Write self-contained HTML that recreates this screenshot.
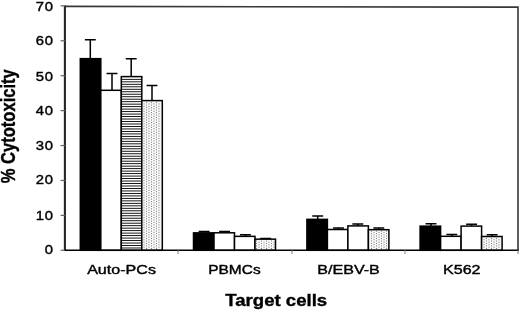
<!DOCTYPE html>
<html><head><meta charset="utf-8"><style>
html,body{margin:0;padding:0;background:#fff;}
svg{display:block;will-change:transform;}
.t{font-family:"Liberation Sans",sans-serif;font-size:13.6px;fill:#000;stroke:#000;stroke-width:0.4px;letter-spacing:0.75px;}
.c{letter-spacing:0;font-size:13.3px;}
.b{font-family:"Liberation Sans",sans-serif;font-size:16.2px;font-weight:bold;fill:#000;stroke:#000;stroke-width:0.35px;}
</style></head><body>
<svg width="520" height="311" viewBox="0 0 520 311">
<rect width="520" height="311" fill="#fff"/>
<path d="M90.30 39.85V58.65M84.85 39.85H95.75" stroke="#000" stroke-width="1.5" fill="none"/>
<rect x="80.30" y="58.65" width="20.50" height="191.65" fill="#000" stroke="#000" stroke-width="1.5"/>
<path d="M112.00 73.60V90.30M106.55 73.60H117.45" stroke="#000" stroke-width="1.5" fill="none"/>
<rect x="100.80" y="90.30" width="20.50" height="160.00" fill="#fff"/>
<rect x="100.80" y="90.30" width="20.50" height="160.00" fill="none" stroke="#000" stroke-width="1.5"/>
<path d="M131.20 58.80V76.60M125.75 58.80H136.65" stroke="#000" stroke-width="1.5" fill="none"/>
<rect x="121.30" y="76.60" width="20.50" height="173.70" fill="#fff"/>
<g fill="#000"><rect x="121.30" y="78.90" width="20.50" height="0.9"/><rect x="121.30" y="81.38" width="20.50" height="0.9"/><rect x="121.30" y="83.86" width="20.50" height="0.9"/><rect x="121.30" y="86.34" width="20.50" height="0.9"/><rect x="121.30" y="88.82" width="20.50" height="0.9"/><rect x="121.30" y="91.30" width="20.50" height="0.9"/><rect x="121.30" y="93.78" width="20.50" height="0.9"/><rect x="121.30" y="96.26" width="20.50" height="0.9"/><rect x="121.30" y="98.74" width="20.50" height="0.9"/><rect x="121.30" y="101.22" width="20.50" height="0.9"/><rect x="121.30" y="103.70" width="20.50" height="0.9"/><rect x="121.30" y="106.18" width="20.50" height="0.9"/><rect x="121.30" y="108.66" width="20.50" height="0.9"/><rect x="121.30" y="111.14" width="20.50" height="0.9"/><rect x="121.30" y="113.62" width="20.50" height="0.9"/><rect x="121.30" y="116.10" width="20.50" height="0.9"/><rect x="121.30" y="118.58" width="20.50" height="0.9"/><rect x="121.30" y="121.06" width="20.50" height="0.9"/><rect x="121.30" y="123.54" width="20.50" height="0.9"/><rect x="121.30" y="126.02" width="20.50" height="0.9"/><rect x="121.30" y="128.50" width="20.50" height="0.9"/><rect x="121.30" y="130.98" width="20.50" height="0.9"/><rect x="121.30" y="133.46" width="20.50" height="0.9"/><rect x="121.30" y="135.94" width="20.50" height="0.9"/><rect x="121.30" y="138.42" width="20.50" height="0.9"/><rect x="121.30" y="140.90" width="20.50" height="0.9"/><rect x="121.30" y="143.38" width="20.50" height="0.9"/><rect x="121.30" y="145.86" width="20.50" height="0.9"/><rect x="121.30" y="148.34" width="20.50" height="0.9"/><rect x="121.30" y="150.82" width="20.50" height="0.9"/><rect x="121.30" y="153.30" width="20.50" height="0.9"/><rect x="121.30" y="155.78" width="20.50" height="0.9"/><rect x="121.30" y="158.26" width="20.50" height="0.9"/><rect x="121.30" y="160.74" width="20.50" height="0.9"/><rect x="121.30" y="163.22" width="20.50" height="0.9"/><rect x="121.30" y="165.70" width="20.50" height="0.9"/><rect x="121.30" y="168.18" width="20.50" height="0.9"/><rect x="121.30" y="170.66" width="20.50" height="0.9"/><rect x="121.30" y="173.14" width="20.50" height="0.9"/><rect x="121.30" y="175.62" width="20.50" height="0.9"/><rect x="121.30" y="178.10" width="20.50" height="0.9"/><rect x="121.30" y="180.58" width="20.50" height="0.9"/><rect x="121.30" y="183.06" width="20.50" height="0.9"/><rect x="121.30" y="185.54" width="20.50" height="0.9"/><rect x="121.30" y="188.02" width="20.50" height="0.9"/><rect x="121.30" y="190.50" width="20.50" height="0.9"/><rect x="121.30" y="192.98" width="20.50" height="0.9"/><rect x="121.30" y="195.46" width="20.50" height="0.9"/><rect x="121.30" y="197.94" width="20.50" height="0.9"/><rect x="121.30" y="200.42" width="20.50" height="0.9"/><rect x="121.30" y="202.90" width="20.50" height="0.9"/><rect x="121.30" y="205.38" width="20.50" height="0.9"/><rect x="121.30" y="207.86" width="20.50" height="0.9"/><rect x="121.30" y="210.34" width="20.50" height="0.9"/><rect x="121.30" y="212.82" width="20.50" height="0.9"/><rect x="121.30" y="215.30" width="20.50" height="0.9"/><rect x="121.30" y="217.78" width="20.50" height="0.9"/><rect x="121.30" y="220.26" width="20.50" height="0.9"/><rect x="121.30" y="222.74" width="20.50" height="0.9"/><rect x="121.30" y="225.22" width="20.50" height="0.9"/><rect x="121.30" y="227.70" width="20.50" height="0.9"/><rect x="121.30" y="230.18" width="20.50" height="0.9"/><rect x="121.30" y="232.66" width="20.50" height="0.9"/><rect x="121.30" y="235.14" width="20.50" height="0.9"/><rect x="121.30" y="237.62" width="20.50" height="0.9"/><rect x="121.30" y="240.10" width="20.50" height="0.9"/><rect x="121.30" y="242.58" width="20.50" height="0.9"/><rect x="121.30" y="245.06" width="20.50" height="0.9"/><rect x="121.30" y="247.54" width="20.50" height="0.9"/></g>
<rect x="121.30" y="76.60" width="20.50" height="173.70" fill="none" stroke="#000" stroke-width="1.5"/>
<path d="M152.00 85.40V100.60M146.55 85.40H157.45" stroke="#000" stroke-width="1.5" fill="none"/>
<rect x="141.80" y="100.60" width="20.50" height="149.70" fill="#fff"/>
<rect x="141.80" y="100.60" width="20.50" height="149.70" fill="#f8f8f8"/><g fill="#7a7a7a"><rect x="143.50" y="103.43" width="1" height="1"/><rect x="143.50" y="105.90" width="1" height="1"/><rect x="143.50" y="108.37" width="1" height="1"/><rect x="143.50" y="110.84" width="1" height="1"/><rect x="143.50" y="113.31" width="1" height="1"/><rect x="143.50" y="115.78" width="1" height="1"/><rect x="143.50" y="118.25" width="1" height="1"/><rect x="143.50" y="120.72" width="1" height="1"/><rect x="143.50" y="123.19" width="1" height="1"/><rect x="143.50" y="125.66" width="1" height="1"/><rect x="143.50" y="128.13" width="1" height="1"/><rect x="143.50" y="130.61" width="1" height="1"/><rect x="143.50" y="133.07" width="1" height="1"/><rect x="143.50" y="135.55" width="1" height="1"/><rect x="143.50" y="138.02" width="1" height="1"/><rect x="143.50" y="140.49" width="1" height="1"/><rect x="143.50" y="142.96" width="1" height="1"/><rect x="143.50" y="145.43" width="1" height="1"/><rect x="143.50" y="147.90" width="1" height="1"/><rect x="143.50" y="150.37" width="1" height="1"/><rect x="143.50" y="152.84" width="1" height="1"/><rect x="143.50" y="155.31" width="1" height="1"/><rect x="143.50" y="157.78" width="1" height="1"/><rect x="143.50" y="160.25" width="1" height="1"/><rect x="143.50" y="162.72" width="1" height="1"/><rect x="143.50" y="165.19" width="1" height="1"/><rect x="143.50" y="167.66" width="1" height="1"/><rect x="143.50" y="170.12" width="1" height="1"/><rect x="143.50" y="172.60" width="1" height="1"/><rect x="143.50" y="175.06" width="1" height="1"/><rect x="143.50" y="177.54" width="1" height="1"/><rect x="143.50" y="180.01" width="1" height="1"/><rect x="143.50" y="182.48" width="1" height="1"/><rect x="143.50" y="184.95" width="1" height="1"/><rect x="143.50" y="187.42" width="1" height="1"/><rect x="143.50" y="189.89" width="1" height="1"/><rect x="143.50" y="192.36" width="1" height="1"/><rect x="143.50" y="194.83" width="1" height="1"/><rect x="143.50" y="197.30" width="1" height="1"/><rect x="143.50" y="199.77" width="1" height="1"/><rect x="143.50" y="202.24" width="1" height="1"/><rect x="143.50" y="204.71" width="1" height="1"/><rect x="143.50" y="207.18" width="1" height="1"/><rect x="143.50" y="209.65" width="1" height="1"/><rect x="143.50" y="212.12" width="1" height="1"/><rect x="143.50" y="214.59" width="1" height="1"/><rect x="143.50" y="217.06" width="1" height="1"/><rect x="143.50" y="219.53" width="1" height="1"/><rect x="143.50" y="222.00" width="1" height="1"/><rect x="143.50" y="224.47" width="1" height="1"/><rect x="143.50" y="226.94" width="1" height="1"/><rect x="143.50" y="229.41" width="1" height="1"/><rect x="143.50" y="231.88" width="1" height="1"/><rect x="143.50" y="234.35" width="1" height="1"/><rect x="143.50" y="236.82" width="1" height="1"/><rect x="143.50" y="239.29" width="1" height="1"/><rect x="143.50" y="241.76" width="1" height="1"/><rect x="143.50" y="244.23" width="1" height="1"/><rect x="143.50" y="246.70" width="1" height="1"/><rect x="146.00" y="102.20" width="1" height="1"/><rect x="146.00" y="104.67" width="1" height="1"/><rect x="146.00" y="107.14" width="1" height="1"/><rect x="146.00" y="109.61" width="1" height="1"/><rect x="146.00" y="112.08" width="1" height="1"/><rect x="146.00" y="114.55" width="1" height="1"/><rect x="146.00" y="117.02" width="1" height="1"/><rect x="146.00" y="119.49" width="1" height="1"/><rect x="146.00" y="121.96" width="1" height="1"/><rect x="146.00" y="124.43" width="1" height="1"/><rect x="146.00" y="126.90" width="1" height="1"/><rect x="146.00" y="129.37" width="1" height="1"/><rect x="146.00" y="131.84" width="1" height="1"/><rect x="146.00" y="134.31" width="1" height="1"/><rect x="146.00" y="136.78" width="1" height="1"/><rect x="146.00" y="139.25" width="1" height="1"/><rect x="146.00" y="141.72" width="1" height="1"/><rect x="146.00" y="144.19" width="1" height="1"/><rect x="146.00" y="146.66" width="1" height="1"/><rect x="146.00" y="149.13" width="1" height="1"/><rect x="146.00" y="151.60" width="1" height="1"/><rect x="146.00" y="154.07" width="1" height="1"/><rect x="146.00" y="156.54" width="1" height="1"/><rect x="146.00" y="159.01" width="1" height="1"/><rect x="146.00" y="161.48" width="1" height="1"/><rect x="146.00" y="163.95" width="1" height="1"/><rect x="146.00" y="166.42" width="1" height="1"/><rect x="146.00" y="168.89" width="1" height="1"/><rect x="146.00" y="171.36" width="1" height="1"/><rect x="146.00" y="173.83" width="1" height="1"/><rect x="146.00" y="176.30" width="1" height="1"/><rect x="146.00" y="178.77" width="1" height="1"/><rect x="146.00" y="181.24" width="1" height="1"/><rect x="146.00" y="183.71" width="1" height="1"/><rect x="146.00" y="186.18" width="1" height="1"/><rect x="146.00" y="188.65" width="1" height="1"/><rect x="146.00" y="191.12" width="1" height="1"/><rect x="146.00" y="193.59" width="1" height="1"/><rect x="146.00" y="196.06" width="1" height="1"/><rect x="146.00" y="198.53" width="1" height="1"/><rect x="146.00" y="201.00" width="1" height="1"/><rect x="146.00" y="203.47" width="1" height="1"/><rect x="146.00" y="205.94" width="1" height="1"/><rect x="146.00" y="208.41" width="1" height="1"/><rect x="146.00" y="210.88" width="1" height="1"/><rect x="146.00" y="213.35" width="1" height="1"/><rect x="146.00" y="215.82" width="1" height="1"/><rect x="146.00" y="218.29" width="1" height="1"/><rect x="146.00" y="220.76" width="1" height="1"/><rect x="146.00" y="223.23" width="1" height="1"/><rect x="146.00" y="225.70" width="1" height="1"/><rect x="146.00" y="228.17" width="1" height="1"/><rect x="146.00" y="230.64" width="1" height="1"/><rect x="146.00" y="233.11" width="1" height="1"/><rect x="146.00" y="235.58" width="1" height="1"/><rect x="146.00" y="238.05" width="1" height="1"/><rect x="146.00" y="240.52" width="1" height="1"/><rect x="146.00" y="242.99" width="1" height="1"/><rect x="146.00" y="245.46" width="1" height="1"/><rect x="146.00" y="247.93" width="1" height="1"/><rect x="148.50" y="103.43" width="1" height="1"/><rect x="148.50" y="105.90" width="1" height="1"/><rect x="148.50" y="108.37" width="1" height="1"/><rect x="148.50" y="110.84" width="1" height="1"/><rect x="148.50" y="113.31" width="1" height="1"/><rect x="148.50" y="115.78" width="1" height="1"/><rect x="148.50" y="118.25" width="1" height="1"/><rect x="148.50" y="120.72" width="1" height="1"/><rect x="148.50" y="123.19" width="1" height="1"/><rect x="148.50" y="125.66" width="1" height="1"/><rect x="148.50" y="128.13" width="1" height="1"/><rect x="148.50" y="130.61" width="1" height="1"/><rect x="148.50" y="133.07" width="1" height="1"/><rect x="148.50" y="135.55" width="1" height="1"/><rect x="148.50" y="138.02" width="1" height="1"/><rect x="148.50" y="140.49" width="1" height="1"/><rect x="148.50" y="142.96" width="1" height="1"/><rect x="148.50" y="145.43" width="1" height="1"/><rect x="148.50" y="147.90" width="1" height="1"/><rect x="148.50" y="150.37" width="1" height="1"/><rect x="148.50" y="152.84" width="1" height="1"/><rect x="148.50" y="155.31" width="1" height="1"/><rect x="148.50" y="157.78" width="1" height="1"/><rect x="148.50" y="160.25" width="1" height="1"/><rect x="148.50" y="162.72" width="1" height="1"/><rect x="148.50" y="165.19" width="1" height="1"/><rect x="148.50" y="167.66" width="1" height="1"/><rect x="148.50" y="170.12" width="1" height="1"/><rect x="148.50" y="172.60" width="1" height="1"/><rect x="148.50" y="175.06" width="1" height="1"/><rect x="148.50" y="177.54" width="1" height="1"/><rect x="148.50" y="180.01" width="1" height="1"/><rect x="148.50" y="182.48" width="1" height="1"/><rect x="148.50" y="184.95" width="1" height="1"/><rect x="148.50" y="187.42" width="1" height="1"/><rect x="148.50" y="189.89" width="1" height="1"/><rect x="148.50" y="192.36" width="1" height="1"/><rect x="148.50" y="194.83" width="1" height="1"/><rect x="148.50" y="197.30" width="1" height="1"/><rect x="148.50" y="199.77" width="1" height="1"/><rect x="148.50" y="202.24" width="1" height="1"/><rect x="148.50" y="204.71" width="1" height="1"/><rect x="148.50" y="207.18" width="1" height="1"/><rect x="148.50" y="209.65" width="1" height="1"/><rect x="148.50" y="212.12" width="1" height="1"/><rect x="148.50" y="214.59" width="1" height="1"/><rect x="148.50" y="217.06" width="1" height="1"/><rect x="148.50" y="219.53" width="1" height="1"/><rect x="148.50" y="222.00" width="1" height="1"/><rect x="148.50" y="224.47" width="1" height="1"/><rect x="148.50" y="226.94" width="1" height="1"/><rect x="148.50" y="229.41" width="1" height="1"/><rect x="148.50" y="231.88" width="1" height="1"/><rect x="148.50" y="234.35" width="1" height="1"/><rect x="148.50" y="236.82" width="1" height="1"/><rect x="148.50" y="239.29" width="1" height="1"/><rect x="148.50" y="241.76" width="1" height="1"/><rect x="148.50" y="244.23" width="1" height="1"/><rect x="148.50" y="246.70" width="1" height="1"/><rect x="151.00" y="102.20" width="1" height="1"/><rect x="151.00" y="104.67" width="1" height="1"/><rect x="151.00" y="107.14" width="1" height="1"/><rect x="151.00" y="109.61" width="1" height="1"/><rect x="151.00" y="112.08" width="1" height="1"/><rect x="151.00" y="114.55" width="1" height="1"/><rect x="151.00" y="117.02" width="1" height="1"/><rect x="151.00" y="119.49" width="1" height="1"/><rect x="151.00" y="121.96" width="1" height="1"/><rect x="151.00" y="124.43" width="1" height="1"/><rect x="151.00" y="126.90" width="1" height="1"/><rect x="151.00" y="129.37" width="1" height="1"/><rect x="151.00" y="131.84" width="1" height="1"/><rect x="151.00" y="134.31" width="1" height="1"/><rect x="151.00" y="136.78" width="1" height="1"/><rect x="151.00" y="139.25" width="1" height="1"/><rect x="151.00" y="141.72" width="1" height="1"/><rect x="151.00" y="144.19" width="1" height="1"/><rect x="151.00" y="146.66" width="1" height="1"/><rect x="151.00" y="149.13" width="1" height="1"/><rect x="151.00" y="151.60" width="1" height="1"/><rect x="151.00" y="154.07" width="1" height="1"/><rect x="151.00" y="156.54" width="1" height="1"/><rect x="151.00" y="159.01" width="1" height="1"/><rect x="151.00" y="161.48" width="1" height="1"/><rect x="151.00" y="163.95" width="1" height="1"/><rect x="151.00" y="166.42" width="1" height="1"/><rect x="151.00" y="168.89" width="1" height="1"/><rect x="151.00" y="171.36" width="1" height="1"/><rect x="151.00" y="173.83" width="1" height="1"/><rect x="151.00" y="176.30" width="1" height="1"/><rect x="151.00" y="178.77" width="1" height="1"/><rect x="151.00" y="181.24" width="1" height="1"/><rect x="151.00" y="183.71" width="1" height="1"/><rect x="151.00" y="186.18" width="1" height="1"/><rect x="151.00" y="188.65" width="1" height="1"/><rect x="151.00" y="191.12" width="1" height="1"/><rect x="151.00" y="193.59" width="1" height="1"/><rect x="151.00" y="196.06" width="1" height="1"/><rect x="151.00" y="198.53" width="1" height="1"/><rect x="151.00" y="201.00" width="1" height="1"/><rect x="151.00" y="203.47" width="1" height="1"/><rect x="151.00" y="205.94" width="1" height="1"/><rect x="151.00" y="208.41" width="1" height="1"/><rect x="151.00" y="210.88" width="1" height="1"/><rect x="151.00" y="213.35" width="1" height="1"/><rect x="151.00" y="215.82" width="1" height="1"/><rect x="151.00" y="218.29" width="1" height="1"/><rect x="151.00" y="220.76" width="1" height="1"/><rect x="151.00" y="223.23" width="1" height="1"/><rect x="151.00" y="225.70" width="1" height="1"/><rect x="151.00" y="228.17" width="1" height="1"/><rect x="151.00" y="230.64" width="1" height="1"/><rect x="151.00" y="233.11" width="1" height="1"/><rect x="151.00" y="235.58" width="1" height="1"/><rect x="151.00" y="238.05" width="1" height="1"/><rect x="151.00" y="240.52" width="1" height="1"/><rect x="151.00" y="242.99" width="1" height="1"/><rect x="151.00" y="245.46" width="1" height="1"/><rect x="151.00" y="247.93" width="1" height="1"/><rect x="153.50" y="103.43" width="1" height="1"/><rect x="153.50" y="105.90" width="1" height="1"/><rect x="153.50" y="108.37" width="1" height="1"/><rect x="153.50" y="110.84" width="1" height="1"/><rect x="153.50" y="113.31" width="1" height="1"/><rect x="153.50" y="115.78" width="1" height="1"/><rect x="153.50" y="118.25" width="1" height="1"/><rect x="153.50" y="120.72" width="1" height="1"/><rect x="153.50" y="123.19" width="1" height="1"/><rect x="153.50" y="125.66" width="1" height="1"/><rect x="153.50" y="128.13" width="1" height="1"/><rect x="153.50" y="130.61" width="1" height="1"/><rect x="153.50" y="133.07" width="1" height="1"/><rect x="153.50" y="135.55" width="1" height="1"/><rect x="153.50" y="138.02" width="1" height="1"/><rect x="153.50" y="140.49" width="1" height="1"/><rect x="153.50" y="142.96" width="1" height="1"/><rect x="153.50" y="145.43" width="1" height="1"/><rect x="153.50" y="147.90" width="1" height="1"/><rect x="153.50" y="150.37" width="1" height="1"/><rect x="153.50" y="152.84" width="1" height="1"/><rect x="153.50" y="155.31" width="1" height="1"/><rect x="153.50" y="157.78" width="1" height="1"/><rect x="153.50" y="160.25" width="1" height="1"/><rect x="153.50" y="162.72" width="1" height="1"/><rect x="153.50" y="165.19" width="1" height="1"/><rect x="153.50" y="167.66" width="1" height="1"/><rect x="153.50" y="170.12" width="1" height="1"/><rect x="153.50" y="172.60" width="1" height="1"/><rect x="153.50" y="175.06" width="1" height="1"/><rect x="153.50" y="177.54" width="1" height="1"/><rect x="153.50" y="180.01" width="1" height="1"/><rect x="153.50" y="182.48" width="1" height="1"/><rect x="153.50" y="184.95" width="1" height="1"/><rect x="153.50" y="187.42" width="1" height="1"/><rect x="153.50" y="189.89" width="1" height="1"/><rect x="153.50" y="192.36" width="1" height="1"/><rect x="153.50" y="194.83" width="1" height="1"/><rect x="153.50" y="197.30" width="1" height="1"/><rect x="153.50" y="199.77" width="1" height="1"/><rect x="153.50" y="202.24" width="1" height="1"/><rect x="153.50" y="204.71" width="1" height="1"/><rect x="153.50" y="207.18" width="1" height="1"/><rect x="153.50" y="209.65" width="1" height="1"/><rect x="153.50" y="212.12" width="1" height="1"/><rect x="153.50" y="214.59" width="1" height="1"/><rect x="153.50" y="217.06" width="1" height="1"/><rect x="153.50" y="219.53" width="1" height="1"/><rect x="153.50" y="222.00" width="1" height="1"/><rect x="153.50" y="224.47" width="1" height="1"/><rect x="153.50" y="226.94" width="1" height="1"/><rect x="153.50" y="229.41" width="1" height="1"/><rect x="153.50" y="231.88" width="1" height="1"/><rect x="153.50" y="234.35" width="1" height="1"/><rect x="153.50" y="236.82" width="1" height="1"/><rect x="153.50" y="239.29" width="1" height="1"/><rect x="153.50" y="241.76" width="1" height="1"/><rect x="153.50" y="244.23" width="1" height="1"/><rect x="153.50" y="246.70" width="1" height="1"/><rect x="156.00" y="102.20" width="1" height="1"/><rect x="156.00" y="104.67" width="1" height="1"/><rect x="156.00" y="107.14" width="1" height="1"/><rect x="156.00" y="109.61" width="1" height="1"/><rect x="156.00" y="112.08" width="1" height="1"/><rect x="156.00" y="114.55" width="1" height="1"/><rect x="156.00" y="117.02" width="1" height="1"/><rect x="156.00" y="119.49" width="1" height="1"/><rect x="156.00" y="121.96" width="1" height="1"/><rect x="156.00" y="124.43" width="1" height="1"/><rect x="156.00" y="126.90" width="1" height="1"/><rect x="156.00" y="129.37" width="1" height="1"/><rect x="156.00" y="131.84" width="1" height="1"/><rect x="156.00" y="134.31" width="1" height="1"/><rect x="156.00" y="136.78" width="1" height="1"/><rect x="156.00" y="139.25" width="1" height="1"/><rect x="156.00" y="141.72" width="1" height="1"/><rect x="156.00" y="144.19" width="1" height="1"/><rect x="156.00" y="146.66" width="1" height="1"/><rect x="156.00" y="149.13" width="1" height="1"/><rect x="156.00" y="151.60" width="1" height="1"/><rect x="156.00" y="154.07" width="1" height="1"/><rect x="156.00" y="156.54" width="1" height="1"/><rect x="156.00" y="159.01" width="1" height="1"/><rect x="156.00" y="161.48" width="1" height="1"/><rect x="156.00" y="163.95" width="1" height="1"/><rect x="156.00" y="166.42" width="1" height="1"/><rect x="156.00" y="168.89" width="1" height="1"/><rect x="156.00" y="171.36" width="1" height="1"/><rect x="156.00" y="173.83" width="1" height="1"/><rect x="156.00" y="176.30" width="1" height="1"/><rect x="156.00" y="178.77" width="1" height="1"/><rect x="156.00" y="181.24" width="1" height="1"/><rect x="156.00" y="183.71" width="1" height="1"/><rect x="156.00" y="186.18" width="1" height="1"/><rect x="156.00" y="188.65" width="1" height="1"/><rect x="156.00" y="191.12" width="1" height="1"/><rect x="156.00" y="193.59" width="1" height="1"/><rect x="156.00" y="196.06" width="1" height="1"/><rect x="156.00" y="198.53" width="1" height="1"/><rect x="156.00" y="201.00" width="1" height="1"/><rect x="156.00" y="203.47" width="1" height="1"/><rect x="156.00" y="205.94" width="1" height="1"/><rect x="156.00" y="208.41" width="1" height="1"/><rect x="156.00" y="210.88" width="1" height="1"/><rect x="156.00" y="213.35" width="1" height="1"/><rect x="156.00" y="215.82" width="1" height="1"/><rect x="156.00" y="218.29" width="1" height="1"/><rect x="156.00" y="220.76" width="1" height="1"/><rect x="156.00" y="223.23" width="1" height="1"/><rect x="156.00" y="225.70" width="1" height="1"/><rect x="156.00" y="228.17" width="1" height="1"/><rect x="156.00" y="230.64" width="1" height="1"/><rect x="156.00" y="233.11" width="1" height="1"/><rect x="156.00" y="235.58" width="1" height="1"/><rect x="156.00" y="238.05" width="1" height="1"/><rect x="156.00" y="240.52" width="1" height="1"/><rect x="156.00" y="242.99" width="1" height="1"/><rect x="156.00" y="245.46" width="1" height="1"/><rect x="156.00" y="247.93" width="1" height="1"/><rect x="158.50" y="103.43" width="1" height="1"/><rect x="158.50" y="105.90" width="1" height="1"/><rect x="158.50" y="108.37" width="1" height="1"/><rect x="158.50" y="110.84" width="1" height="1"/><rect x="158.50" y="113.31" width="1" height="1"/><rect x="158.50" y="115.78" width="1" height="1"/><rect x="158.50" y="118.25" width="1" height="1"/><rect x="158.50" y="120.72" width="1" height="1"/><rect x="158.50" y="123.19" width="1" height="1"/><rect x="158.50" y="125.66" width="1" height="1"/><rect x="158.50" y="128.13" width="1" height="1"/><rect x="158.50" y="130.61" width="1" height="1"/><rect x="158.50" y="133.07" width="1" height="1"/><rect x="158.50" y="135.55" width="1" height="1"/><rect x="158.50" y="138.02" width="1" height="1"/><rect x="158.50" y="140.49" width="1" height="1"/><rect x="158.50" y="142.96" width="1" height="1"/><rect x="158.50" y="145.43" width="1" height="1"/><rect x="158.50" y="147.90" width="1" height="1"/><rect x="158.50" y="150.37" width="1" height="1"/><rect x="158.50" y="152.84" width="1" height="1"/><rect x="158.50" y="155.31" width="1" height="1"/><rect x="158.50" y="157.78" width="1" height="1"/><rect x="158.50" y="160.25" width="1" height="1"/><rect x="158.50" y="162.72" width="1" height="1"/><rect x="158.50" y="165.19" width="1" height="1"/><rect x="158.50" y="167.66" width="1" height="1"/><rect x="158.50" y="170.12" width="1" height="1"/><rect x="158.50" y="172.60" width="1" height="1"/><rect x="158.50" y="175.06" width="1" height="1"/><rect x="158.50" y="177.54" width="1" height="1"/><rect x="158.50" y="180.01" width="1" height="1"/><rect x="158.50" y="182.48" width="1" height="1"/><rect x="158.50" y="184.95" width="1" height="1"/><rect x="158.50" y="187.42" width="1" height="1"/><rect x="158.50" y="189.89" width="1" height="1"/><rect x="158.50" y="192.36" width="1" height="1"/><rect x="158.50" y="194.83" width="1" height="1"/><rect x="158.50" y="197.30" width="1" height="1"/><rect x="158.50" y="199.77" width="1" height="1"/><rect x="158.50" y="202.24" width="1" height="1"/><rect x="158.50" y="204.71" width="1" height="1"/><rect x="158.50" y="207.18" width="1" height="1"/><rect x="158.50" y="209.65" width="1" height="1"/><rect x="158.50" y="212.12" width="1" height="1"/><rect x="158.50" y="214.59" width="1" height="1"/><rect x="158.50" y="217.06" width="1" height="1"/><rect x="158.50" y="219.53" width="1" height="1"/><rect x="158.50" y="222.00" width="1" height="1"/><rect x="158.50" y="224.47" width="1" height="1"/><rect x="158.50" y="226.94" width="1" height="1"/><rect x="158.50" y="229.41" width="1" height="1"/><rect x="158.50" y="231.88" width="1" height="1"/><rect x="158.50" y="234.35" width="1" height="1"/><rect x="158.50" y="236.82" width="1" height="1"/><rect x="158.50" y="239.29" width="1" height="1"/><rect x="158.50" y="241.76" width="1" height="1"/><rect x="158.50" y="244.23" width="1" height="1"/><rect x="158.50" y="246.70" width="1" height="1"/></g>
<rect x="141.80" y="100.60" width="20.50" height="149.70" fill="none" stroke="#000" stroke-width="1.5"/>
<path d="M204.10 231.50V232.85M198.65 231.50H209.55" stroke="#000" stroke-width="1.5" fill="none"/>
<rect x="193.50" y="232.85" width="20.50" height="17.45" fill="#000" stroke="#000" stroke-width="1.5"/>
<path d="M224.60 231.60V232.80M219.15 231.60H230.05" stroke="#000" stroke-width="1.5" fill="none"/>
<rect x="214.00" y="232.80" width="20.50" height="17.50" fill="#fff"/>
<rect x="214.00" y="232.80" width="20.50" height="17.50" fill="none" stroke="#000" stroke-width="1.5"/>
<path d="M245.40 234.65V236.35M239.95 234.65H250.85" stroke="#000" stroke-width="1.5" fill="none"/>
<rect x="234.50" y="236.35" width="20.50" height="13.95" fill="#fff"/>
<rect x="234.50" y="236.35" width="20.50" height="13.95" fill="none" stroke="#000" stroke-width="1.5"/>
<path d="M265.70 238.50V239.15M260.25 238.50H271.15" stroke="#000" stroke-width="1.5" fill="none"/>
<rect x="255.00" y="239.15" width="20.50" height="11.15" fill="#fff"/>
<rect x="255.00" y="239.15" width="20.50" height="11.15" fill="#f8f8f8"/><g fill="#7a7a7a"><rect x="256.00" y="240.52" width="1" height="1"/><rect x="256.00" y="242.99" width="1" height="1"/><rect x="256.00" y="245.46" width="1" height="1"/><rect x="256.00" y="247.93" width="1" height="1"/><rect x="258.50" y="241.76" width="1" height="1"/><rect x="258.50" y="244.23" width="1" height="1"/><rect x="258.50" y="246.70" width="1" height="1"/><rect x="261.00" y="240.52" width="1" height="1"/><rect x="261.00" y="242.99" width="1" height="1"/><rect x="261.00" y="245.46" width="1" height="1"/><rect x="261.00" y="247.93" width="1" height="1"/><rect x="263.50" y="241.76" width="1" height="1"/><rect x="263.50" y="244.23" width="1" height="1"/><rect x="263.50" y="246.70" width="1" height="1"/><rect x="266.00" y="240.52" width="1" height="1"/><rect x="266.00" y="242.99" width="1" height="1"/><rect x="266.00" y="245.46" width="1" height="1"/><rect x="266.00" y="247.93" width="1" height="1"/><rect x="268.50" y="241.76" width="1" height="1"/><rect x="268.50" y="244.23" width="1" height="1"/><rect x="268.50" y="246.70" width="1" height="1"/><rect x="271.00" y="240.52" width="1" height="1"/><rect x="271.00" y="242.99" width="1" height="1"/><rect x="271.00" y="245.46" width="1" height="1"/><rect x="271.00" y="247.93" width="1" height="1"/><rect x="273.50" y="241.76" width="1" height="1"/><rect x="273.50" y="244.23" width="1" height="1"/><rect x="273.50" y="246.70" width="1" height="1"/></g>
<rect x="255.00" y="239.15" width="20.50" height="11.15" fill="none" stroke="#000" stroke-width="1.5"/>
<path d="M317.70 216.00V219.35M312.25 216.00H323.15" stroke="#000" stroke-width="1.5" fill="none"/>
<rect x="306.90" y="219.35" width="20.50" height="30.95" fill="#000" stroke="#000" stroke-width="1.5"/>
<path d="M338.50 228.00V229.50M333.05 228.00H343.95" stroke="#000" stroke-width="1.5" fill="none"/>
<rect x="327.40" y="229.50" width="20.50" height="20.80" fill="#fff"/>
<rect x="327.40" y="229.50" width="20.50" height="20.80" fill="none" stroke="#000" stroke-width="1.5"/>
<path d="M357.80 224.00V225.90M352.35 224.00H363.25" stroke="#000" stroke-width="1.5" fill="none"/>
<rect x="347.90" y="225.90" width="20.50" height="24.40" fill="#fff"/>
<rect x="347.90" y="225.90" width="20.50" height="24.40" fill="none" stroke="#000" stroke-width="1.5"/>
<path d="M378.80 228.00V229.70M373.35 228.00H384.25" stroke="#000" stroke-width="1.5" fill="none"/>
<rect x="368.40" y="229.70" width="20.50" height="20.60" fill="#fff"/>
<rect x="368.40" y="229.70" width="20.50" height="20.60" fill="#f8f8f8"/><g fill="#7a7a7a"><rect x="371.00" y="230.64" width="1" height="1"/><rect x="371.00" y="233.11" width="1" height="1"/><rect x="371.00" y="235.58" width="1" height="1"/><rect x="371.00" y="238.05" width="1" height="1"/><rect x="371.00" y="240.52" width="1" height="1"/><rect x="371.00" y="242.99" width="1" height="1"/><rect x="371.00" y="245.46" width="1" height="1"/><rect x="371.00" y="247.93" width="1" height="1"/><rect x="373.50" y="231.88" width="1" height="1"/><rect x="373.50" y="234.35" width="1" height="1"/><rect x="373.50" y="236.82" width="1" height="1"/><rect x="373.50" y="239.29" width="1" height="1"/><rect x="373.50" y="241.76" width="1" height="1"/><rect x="373.50" y="244.23" width="1" height="1"/><rect x="373.50" y="246.70" width="1" height="1"/><rect x="376.00" y="230.64" width="1" height="1"/><rect x="376.00" y="233.11" width="1" height="1"/><rect x="376.00" y="235.58" width="1" height="1"/><rect x="376.00" y="238.05" width="1" height="1"/><rect x="376.00" y="240.52" width="1" height="1"/><rect x="376.00" y="242.99" width="1" height="1"/><rect x="376.00" y="245.46" width="1" height="1"/><rect x="376.00" y="247.93" width="1" height="1"/><rect x="378.50" y="231.88" width="1" height="1"/><rect x="378.50" y="234.35" width="1" height="1"/><rect x="378.50" y="236.82" width="1" height="1"/><rect x="378.50" y="239.29" width="1" height="1"/><rect x="378.50" y="241.76" width="1" height="1"/><rect x="378.50" y="244.23" width="1" height="1"/><rect x="378.50" y="246.70" width="1" height="1"/><rect x="381.00" y="230.64" width="1" height="1"/><rect x="381.00" y="233.11" width="1" height="1"/><rect x="381.00" y="235.58" width="1" height="1"/><rect x="381.00" y="238.05" width="1" height="1"/><rect x="381.00" y="240.52" width="1" height="1"/><rect x="381.00" y="242.99" width="1" height="1"/><rect x="381.00" y="245.46" width="1" height="1"/><rect x="381.00" y="247.93" width="1" height="1"/><rect x="383.50" y="231.88" width="1" height="1"/><rect x="383.50" y="234.35" width="1" height="1"/><rect x="383.50" y="236.82" width="1" height="1"/><rect x="383.50" y="239.29" width="1" height="1"/><rect x="383.50" y="241.76" width="1" height="1"/><rect x="383.50" y="244.23" width="1" height="1"/><rect x="383.50" y="246.70" width="1" height="1"/><rect x="386.00" y="230.64" width="1" height="1"/><rect x="386.00" y="233.11" width="1" height="1"/><rect x="386.00" y="235.58" width="1" height="1"/><rect x="386.00" y="238.05" width="1" height="1"/><rect x="386.00" y="240.52" width="1" height="1"/><rect x="386.00" y="242.99" width="1" height="1"/><rect x="386.00" y="245.46" width="1" height="1"/><rect x="386.00" y="247.93" width="1" height="1"/></g>
<rect x="368.40" y="229.70" width="20.50" height="20.60" fill="none" stroke="#000" stroke-width="1.5"/>
<path d="M431.00 223.75V226.15M425.55 223.75H436.45" stroke="#000" stroke-width="1.5" fill="none"/>
<rect x="420.10" y="226.15" width="20.50" height="24.15" fill="#000" stroke="#000" stroke-width="1.5"/>
<path d="M451.80 234.50V236.30M446.35 234.50H457.25" stroke="#000" stroke-width="1.5" fill="none"/>
<rect x="440.60" y="236.30" width="20.50" height="14.00" fill="#fff"/>
<rect x="440.60" y="236.30" width="20.50" height="14.00" fill="none" stroke="#000" stroke-width="1.5"/>
<path d="M471.60 224.30V226.10M466.15 224.30H477.05" stroke="#000" stroke-width="1.5" fill="none"/>
<rect x="461.10" y="226.10" width="20.50" height="24.20" fill="#fff"/>
<rect x="461.10" y="226.10" width="20.50" height="24.20" fill="none" stroke="#000" stroke-width="1.5"/>
<path d="M492.10 234.80V236.50M486.65 234.80H497.55" stroke="#000" stroke-width="1.5" fill="none"/>
<rect x="481.60" y="236.50" width="20.50" height="13.80" fill="#fff"/>
<rect x="481.60" y="236.50" width="20.50" height="13.80" fill="#f8f8f8"/><g fill="#7a7a7a"><rect x="483.50" y="239.29" width="1" height="1"/><rect x="483.50" y="241.76" width="1" height="1"/><rect x="483.50" y="244.23" width="1" height="1"/><rect x="483.50" y="246.70" width="1" height="1"/><rect x="486.00" y="238.05" width="1" height="1"/><rect x="486.00" y="240.52" width="1" height="1"/><rect x="486.00" y="242.99" width="1" height="1"/><rect x="486.00" y="245.46" width="1" height="1"/><rect x="486.00" y="247.93" width="1" height="1"/><rect x="488.50" y="239.29" width="1" height="1"/><rect x="488.50" y="241.76" width="1" height="1"/><rect x="488.50" y="244.23" width="1" height="1"/><rect x="488.50" y="246.70" width="1" height="1"/><rect x="491.00" y="238.05" width="1" height="1"/><rect x="491.00" y="240.52" width="1" height="1"/><rect x="491.00" y="242.99" width="1" height="1"/><rect x="491.00" y="245.46" width="1" height="1"/><rect x="491.00" y="247.93" width="1" height="1"/><rect x="493.50" y="239.29" width="1" height="1"/><rect x="493.50" y="241.76" width="1" height="1"/><rect x="493.50" y="244.23" width="1" height="1"/><rect x="493.50" y="246.70" width="1" height="1"/><rect x="496.00" y="238.05" width="1" height="1"/><rect x="496.00" y="240.52" width="1" height="1"/><rect x="496.00" y="242.99" width="1" height="1"/><rect x="496.00" y="245.46" width="1" height="1"/><rect x="496.00" y="247.93" width="1" height="1"/><rect x="498.50" y="239.29" width="1" height="1"/><rect x="498.50" y="241.76" width="1" height="1"/><rect x="498.50" y="244.23" width="1" height="1"/><rect x="498.50" y="246.70" width="1" height="1"/></g>
<rect x="481.60" y="236.50" width="20.50" height="13.80" fill="none" stroke="#000" stroke-width="1.5"/>
<path d="M64.9 6.35 L518.0 7.15 V250.3" fill="none" stroke="#383838" stroke-width="1.6"/>
<path d="M64.9 5.6 V250.3" fill="none" stroke="#262626" stroke-width="2.1"/>
<path d="M63.900000000000006 250.3 H518.8" fill="none" stroke="#000" stroke-width="1.5"/>
<line x1="60.6" y1="250.30" x2="64.9" y2="250.30" stroke="#666" stroke-width="1.2"/>
<text x="0" y="0" transform="translate(53.8 254.30) scale(1.09 1)" text-anchor="end" class="t">0</text>
<line x1="60.6" y1="215.38" x2="64.9" y2="215.38" stroke="#666" stroke-width="1.2"/>
<text x="0" y="0" transform="translate(53.8 219.75) scale(1.09 1)" text-anchor="end" class="t">10</text>
<line x1="60.6" y1="180.46" x2="64.9" y2="180.46" stroke="#666" stroke-width="1.2"/>
<text x="0" y="0" transform="translate(53.8 183.95) scale(1.09 1)" text-anchor="end" class="t">20</text>
<line x1="60.6" y1="145.54" x2="64.9" y2="145.54" stroke="#666" stroke-width="1.2"/>
<text x="0" y="0" transform="translate(53.8 149.75) scale(1.09 1)" text-anchor="end" class="t">30</text>
<line x1="60.6" y1="110.62" x2="64.9" y2="110.62" stroke="#666" stroke-width="1.2"/>
<text x="0" y="0" transform="translate(53.8 115.20) scale(1.09 1)" text-anchor="end" class="t">40</text>
<line x1="60.6" y1="75.70" x2="64.9" y2="75.70" stroke="#666" stroke-width="1.2"/>
<text x="0" y="0" transform="translate(53.8 80.60) scale(1.09 1)" text-anchor="end" class="t">50</text>
<line x1="60.6" y1="40.78" x2="64.9" y2="40.78" stroke="#666" stroke-width="1.2"/>
<text x="0" y="0" transform="translate(53.8 45.05) scale(1.09 1)" text-anchor="end" class="t">60</text>
<line x1="60.6" y1="5.86" x2="64.9" y2="5.86" stroke="#666" stroke-width="1.2"/>
<text x="0" y="0" transform="translate(53.8 10.75) scale(1.09 1)" text-anchor="end" class="t">70</text>
<line x1="178.00" y1="250.3" x2="178.00" y2="254.10" stroke="#888" stroke-width="1.1"/>
<line x1="291.90" y1="250.3" x2="291.90" y2="254.10" stroke="#888" stroke-width="1.1"/>
<line x1="405.00" y1="250.3" x2="405.00" y2="254.10" stroke="#888" stroke-width="1.1"/>
<line x1="518.00" y1="250.3" x2="518.00" y2="254.10" stroke="#888" stroke-width="1.1"/>
<text x="0" y="0" transform="translate(121.55 274) scale(1.21 1)" text-anchor="middle" class="t c">Auto-PCs</text>
<text x="0" y="0" transform="translate(234.45 274) scale(1.164 1)" text-anchor="middle" class="t c">PBMCs</text>
<text x="0" y="0" transform="translate(348.55 274) scale(1.21 1)" text-anchor="middle" class="t c">B/EBV-B</text>
<text x="0" y="0" transform="translate(461.75 274) scale(1.21 1)" text-anchor="middle" class="t c">K562</text>
<text x="0" y="0" transform="translate(15.2 126.25) rotate(-90) scale(1.022 1.2)" text-anchor="middle" class="b">% Cytotoxicity</text>
<text x="0" y="0" transform="translate(276.2 306.4) scale(1.148 1)" text-anchor="middle" class="b">Target cells</text>
</svg>
</body></html>
